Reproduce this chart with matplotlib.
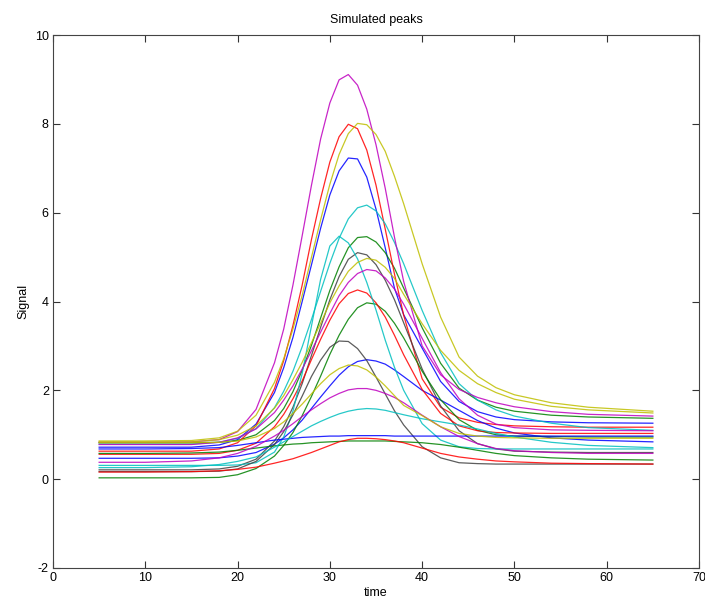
import matplotlib
matplotlib.use("Agg")
import matplotlib.pyplot as plt

# sample times (shared by every trace)
time = [5, 10, 15, 18, 20, 22, 24, 25, 26, 27, 28, 29, 30, 31, 32, 33, 34, 35,
        36, 37, 38, 40, 42, 44, 46, 48, 50, 54, 58, 65]

# traces, in plotting order (colour cycle b g r c m y k)
blue_1 = [.72, .72, .72, .77, .89, 1.24, 1.95, 2.51, 3.19, 4.0, 4.82, 5.65, 6.40, 6.94, 7.23,
          7.21, 6.80, 6.08, 5.21, 4.3, 3.7, 2.95, 2.2, 1.75, 1.52, 1.4, 1.34, 1.29, 1.27, 1.26]
green_1 = [.82, .82, .82, .83, .87, 1.0, 1.32, 1.59, 1.97, 2.45, 3.01, 3.63, 4.25, 4.78, 5.21,
           5.44, 5.46, 5.34, 5.10, 4.75, 4.30, 3.41, 2.61, 2.05, 1.78, 1.62, 1.53, 1.44, 1.40, 1.37]
red_1 = [.63, .63, .63, .68, .82, 1.20, 2.04, 2.67, 3.46, 4.37, 5.39, 6.32, 7.14, 7.71, 7.99,
         7.89, 7.41, 6.62, 5.63, 4.62, 3.69, 2.26, 1.62, 1.38, 1.28, 1.23, 1.20, 1.18, 1.17, 1.17]
cyan_1 = [.79, .79, .79, .83, .92, 1.14, 1.61, 1.98, 2.43, 2.98, 3.59, 4.23, 4.86, 5.42, 5.86,
          6.11, 6.17, 6.04, 5.75, 5.33, 4.85, 3.8, 2.85, 2.15, 1.78, 1.56, 1.42, 1.26, 1.16, 1.1]
magenta_1 = [.83, .83, .84, .89, 1.07, 1.57, 2.62, 3.38, 4.37, 5.48, 6.61, 7.66, 8.47, 8.99, 9.11,
             8.87, 8.33, 7.53, 6.55, 5.45, 4.45, 3.0, 2.35, 2.02, 1.84, 1.72, 1.63, 1.52, 1.46, 1.42]
yellow_1 = [.86, .86, .87, .93, 1.08, 1.44, 2.18, 2.71, 3.38, 4.14, 4.99, 5.84, 6.64, 7.31, 7.78,
            8.01, 7.98, 7.76, 7.38, 6.82, 6.2, 4.85, 3.65, 2.75, 2.32, 2.06, 1.9, 1.72, 1.62, 1.53]
black_1 = [.21, .21, .21, .23, .29, .45, .86, 1.18, 1.62, 2.15, 2.78, 3.42, 4.04, 4.56, 4.95,
           5.10, 5.05, 4.83, 4.48, 4.04, 3.52, 2.48, 1.65, 1.09, .80, .68, .63, .61, .60, .60]
blue_2 = [.47, .47, .47, .48, .52, .60, .79, .93, 1.11, 1.33, 1.59, 1.85, 2.10, 2.34, 2.53,
          2.65, 2.69, 2.66, 2.59, 2.46, 2.31, 2.0, 1.78, 1.55, 1.32, 1.15, 1.04, .93, .88, .84]
green_2 = [.03, .03, .03, .04, .10, .24, .52, .76, 1.05, 1.43, 1.86, 2.32, 2.81, 3.24, 3.60,
           3.86, 3.97, 3.94, 3.78, 3.51, 3.18, 2.43, 1.79, 1.34, 1.10, 1.0, .97, .96, .95, .95]
red_2 = [.56, .56, .56, .58, .65, .81, 1.18, 1.46, 1.81, 2.21, 2.69, 3.15, 3.58, 3.95, 4.18,
         4.26, 4.19, 3.97, 3.65, 3.24, 2.80, 2.02, 1.48, 1.20, 1.09, 1.05, 1.04, 1.03, 1.03, 1.03]
cyan_2 = [.31, .31, .31, .31, .32, .37, .61, .95, 1.53, 2.38, 3.44, 4.50, 5.25, 5.47, 5.32,
          4.96, 4.43, 3.81, 3.13, 2.52, 2.0, 1.25, .88, .73, .69, .68, .68, .68, .68, .68]
magenta_2 = [.78, .78, .78, .83, .93, 1.13, 1.50, 1.78, 2.10, 2.48, 2.89, 3.31, 3.73, 4.13, 4.43,
             4.63, 4.72, 4.69, 4.53, 4.28, 3.94, 3.17, 2.40, 1.81, 1.44, 1.24, 1.16, 1.11, 1.10, 1.09]
yellow_2 = [.84, .84, .84, .89, .99, 1.20, 1.60, 1.88, 2.24, 2.63, 3.07, 3.51, 3.97, 4.35, 4.68,
            4.88, 4.97, 4.93, 4.77, 4.52, 4.16, 3.5, 2.9, 2.45, 2.15, 1.95, 1.8, 1.64, 1.56, 1.49]
black_2 = [.17, .17, .17, .18, .23, .40, .78, 1.07, 1.45, 1.87, 2.31, 2.68, 2.97, 3.11, 3.10,
           2.94, 2.67, 2.30, 1.92, 1.54, 1.22, .73, .48, .37, .35, .34, .34, .34, .34, .34]
blue_3 = [.68, .68, .69, .71, .76, .82, .88, .90, .92, .94, .95, .96, .97, .97, .98,
          .98, .98, .98, .98, .97, .97, .97, .97, .97, .97, .97, .97, .97, .97, .97]
green_3 = [.58, .58, .59, .61, .65, .70, .75, .77, .79, .80, .82, .83, .84, .85, .86,
           .86, .86, .86, .86, .85, .84, .82, .78, .72, .65, .58, .53, .48, .45, .43]
red_3 = [.16, .16, .17, .19, .22, .27, .36, .41, .46, .53, .60, .68, .76, .84, .89,
         .92, .92, .91, .89, .86, .82, .70, .58, .50, .45, .41, .39, .36, .35, .34]
cyan_3 = [.26, .26, .28, .33, .40, .50, .72, .84, .96, 1.08, 1.2, 1.3, 1.39, 1.47, 1.53,
          1.57, 1.59, 1.58, 1.55, 1.50, 1.45, 1.36, 1.29, 1.22, 1.13, 1.03, .95, .83, .76, .71]
magenta_3 = [.38, .38, .41, .48, .58, .74, .97, 1.10, 1.25, 1.41, 1.56, 1.70, 1.83, 1.93, 2.01,
             2.04, 2.04, 2.0, 1.93, 1.84, 1.72, 1.44, 1.18, .96, .80, .69, .64, .60, .58, .58]
yellow_3 = [.82, .82, .82, .83, .86, .95, 1.14, 1.29, 1.48, 1.69, 1.92, 2.15, 2.35, 2.49, 2.57,
            2.55, 2.46, 2.30, 2.10, 1.88, 1.66, 1.43, 1.18, 1.03, .97, .94, .93, .92, .92, .92]

traces = [blue_1, green_1, red_1, cyan_1, magenta_1, yellow_1, black_1,
          blue_2, green_2, red_2, cyan_2, magenta_2, yellow_2, black_2,
          blue_3, green_3, red_3, cyan_3, magenta_3, yellow_3]

# old matlab line colour order
colours = [(0, 0, 1), (0, 0.5, 0), (1, 0, 0), (0, 0.75, 0.75),
           (0.75, 0, 0.75), (0.75, 0.75, 0), (0.25, 0.25, 0.25)]

plt.rcParams["font.family"] = ["Liberation Sans", "DejaVu Sans"]
plt.rcParams["axes.unicode_minus"] = False   # matlab prints a plain hyphen

fig = plt.figure(figsize=(7.05, 6.07), dpi=100)
ax = fig.add_axes([53 / 705, 39 / 607, 646 / 705, 533 / 607])

for i, y in enumerate(traces):
    ax.plot(time, y, color=colours[i % len(colours)], lw=0.9, alpha=0.85)

ax.set_xlim(0, 70)
ax.set_ylim(-2, 10)
ax.set_xticks(range(0, 71, 10))
ax.set_yticks(range(-2, 11, 2))
ax.tick_params(direction="in", top=True, right=True, length=5, width=0.8,
               labelsize=9, colors="#333333", labelcolor="black", pad=3)
for s in ax.spines.values():
    s.set_color("#444444")
    s.set_linewidth(0.8)

ax.set_title("Simulated peaks", fontsize=9, pad=9)
ax.set_xlabel("time", fontsize=9, labelpad=2)
ax.set_ylabel("Signal", fontsize=9, labelpad=4)

fig.savefig("out.png", dpi=100)
